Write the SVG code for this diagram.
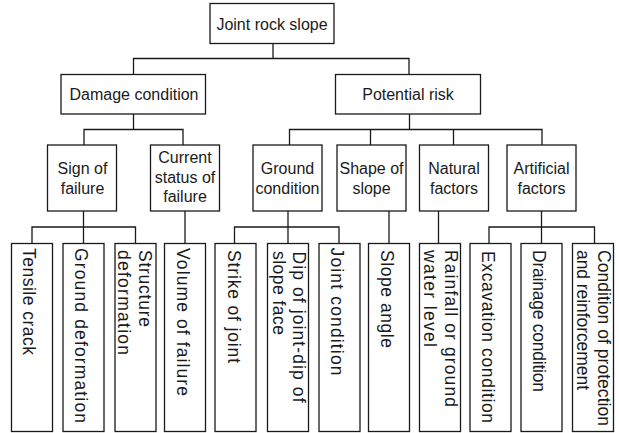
<svg xmlns="http://www.w3.org/2000/svg" width="619" height="433" viewBox="0 0 619 433">
<style>
  .box { fill: #fff; stroke: #1a1a1a; stroke-width: 1.3; }
  .c { fill: none; stroke: #1a1a1a; stroke-width: 1.3; }
  text { font-family: "Liberation Sans", Arial, sans-serif; font-size: 16px; fill: #1a1a1a; }
  .m { text-anchor: middle; }
  .v { font-size: 17.5px; }
</style>
<rect x="0" y="0" width="619" height="433" fill="#fff"/>
<g id="connectors">
  <polyline class="c" points="273,43.5 273,58.5"/>
  <polyline class="c" points="133.5,74.5 133.5,58.5 409,58.5 409,74.5"/>
  <polyline class="c" points="133.5,114 133.5,129.5"/>
  <polyline class="c" points="84,145 84,129.5 183,129.5 183,145"/>
  <polyline class="c" points="409.5,114 409.5,129.5"/>
  <polyline class="c" points="289.5,145 289.5,129.5 542,129.5 542,145"/>
  <polyline class="c" points="370.5,129.5 370.5,145"/>
  <polyline class="c" points="453.5,129.5 453.5,145"/>
  <polyline class="c" points="83.5,211 83.5,227"/>
  <polyline class="c" points="32,243.5 32,227 135.5,227 135.5,243.5"/>
  <polyline class="c" points="83.5,227 83.5,243.5"/>
  <polyline class="c" points="185,211 185,243.5"/>
  <polyline class="c" points="288,211 288,243.5"/>
  <polyline class="c" points="234.5,243.5 234.5,227 339,227 339,243.5"/>
  <polyline class="c" points="389,211 389,243.5"/>
  <polyline class="c" points="438.5,211 438.5,243.5"/>
  <polyline class="c" points="541.5,211 541.5,243.5"/>
  <polyline class="c" points="489,243.5 489,227 594.5,227 594.5,243.5"/>
</g>
<g id="root">
  <rect class="box" x="210" y="3.5" width="124" height="40"/>
  <text class="m" x="272" y="29.5">Joint rock slope</text>
</g>
<g id="damage">
  <rect class="box" x="61" y="74.5" width="144.5" height="39.5"/>
  <text class="m" x="134" y="100">Damage condition</text>
</g>
<g id="potential">
  <rect class="box" x="335.5" y="74.5" width="145" height="39.5"/>
  <text class="m" x="408" y="100">Potential risk</text>
</g>
<g id="sign">
  <rect class="box" x="47.5" y="145" width="69" height="66"/>
  <text class="m" x="82.5" y="173.5">Sign of</text>
  <text class="m" x="82.5" y="193.5">failure</text>
</g>
<g id="current">
  <rect class="box" x="150.5" y="145" width="69" height="66"/>
  <text class="m" x="185" y="163">Current</text>
  <text class="m" x="185" y="182.5">status of</text>
  <text class="m" x="185" y="202">failure</text>
</g>
<g id="ground">
  <rect class="box" x="253" y="145" width="69" height="66"/>
  <text class="m" x="287.5" y="173.5">Ground</text>
  <text class="m" x="287.5" y="193.5">condition</text>
</g>
<g id="shape">
  <rect class="box" x="337" y="145" width="69" height="66"/>
  <text class="m" x="371.5" y="173.5">Shape of</text>
  <text class="m" x="371.5" y="193.5">slope</text>
</g>
<g id="natural">
  <rect class="box" x="419.5" y="145" width="69" height="66"/>
  <text class="m" x="454" y="173.5">Natural</text>
  <text class="m" x="454" y="193.5">factors</text>
</g>
<g id="artificial">
  <rect class="box" x="507" y="145" width="69" height="66"/>
  <text class="m" x="541.5" y="173.5">Artificial</text>
  <text class="m" x="541.5" y="193.5">factors</text>
</g>
<g id="tensile">
  <rect class="box" x="11.5" y="243.5" width="41" height="188"/>
  <text class="v" transform="translate(23,248) rotate(90)" textLength="107" lengthAdjust="spacing">Tensile crack</text>
</g>
<g id="grounddef">
  <rect class="box" x="63" y="243.5" width="41" height="188"/>
  <text class="v" transform="translate(74.5,248) rotate(90)" textLength="175" lengthAdjust="spacing">Ground deformation</text>
</g>
<g id="structure">
  <rect class="box" x="115" y="243.5" width="41" height="188"/>
  <text class="v" transform="translate(138.5,250) rotate(90)" textLength="77" lengthAdjust="spacing">Structure</text>
  <text class="v" transform="translate(118,250) rotate(90)" textLength="105" lengthAdjust="spacing">deformation</text>
</g>
<g id="volume">
  <rect class="box" x="164.5" y="243.5" width="41" height="188"/>
  <text class="v" transform="translate(176.5,248) rotate(90)" textLength="148" lengthAdjust="spacing">Volume of failure</text>
</g>
<g id="strike">
  <rect class="box" x="215" y="243.5" width="41" height="188"/>
  <text class="v" transform="translate(227.5,250) rotate(90)" textLength="113" lengthAdjust="spacing">Strike of joint</text>
</g>
<g id="dip">
  <rect class="box" x="267.5" y="243.5" width="41" height="188"/>
  <text class="v" transform="translate(293,251.5) rotate(90)" textLength="151" lengthAdjust="spacing">Dip of joint-dip of</text>
  <text class="v" transform="translate(272.5,251) rotate(90)" textLength="84" lengthAdjust="spacing">slope face</text>
</g>
<g id="jointcond">
  <rect class="box" x="319" y="243.5" width="41" height="188"/>
  <text class="v" transform="translate(331,247.5) rotate(90)" textLength="128" lengthAdjust="spacing">Joint condition</text>
</g>
<g id="slopeangle">
  <rect class="box" x="368.5" y="243.5" width="41" height="188"/>
  <text class="v" transform="translate(380.5,250) rotate(90)" textLength="98" lengthAdjust="spacing">Slope angle</text>
</g>
<g id="rainfall">
  <rect class="box" x="419.5" y="243.5" width="41" height="188"/>
  <text class="v" transform="translate(444.5,250) rotate(90)" textLength="157" lengthAdjust="spacing">Rainfall or ground</text>
  <text class="v" transform="translate(423.5,250) rotate(90)" textLength="97" lengthAdjust="spacing">water level</text>
</g>
<g id="excavation">
  <rect class="box" x="470" y="243.5" width="41" height="188"/>
  <text class="v" transform="translate(482,251) rotate(90)" textLength="172" lengthAdjust="spacing">Excavation condition</text>
</g>
<g id="drainage">
  <rect class="box" x="521" y="243.5" width="41" height="188"/>
  <text class="v" transform="translate(533,250) rotate(90)" textLength="142" lengthAdjust="spacing">Drainage condition</text>
</g>
<g id="protection">
  <rect class="box" x="572.5" y="243.5" width="41" height="188"/>
  <text class="v" transform="translate(597.5,250) rotate(90)" textLength="176" lengthAdjust="spacing">Condition of protection</text>
  <text class="v" transform="translate(577,250) rotate(90)" textLength="140" lengthAdjust="spacing">and reinforcement</text>
</g>
</svg>
